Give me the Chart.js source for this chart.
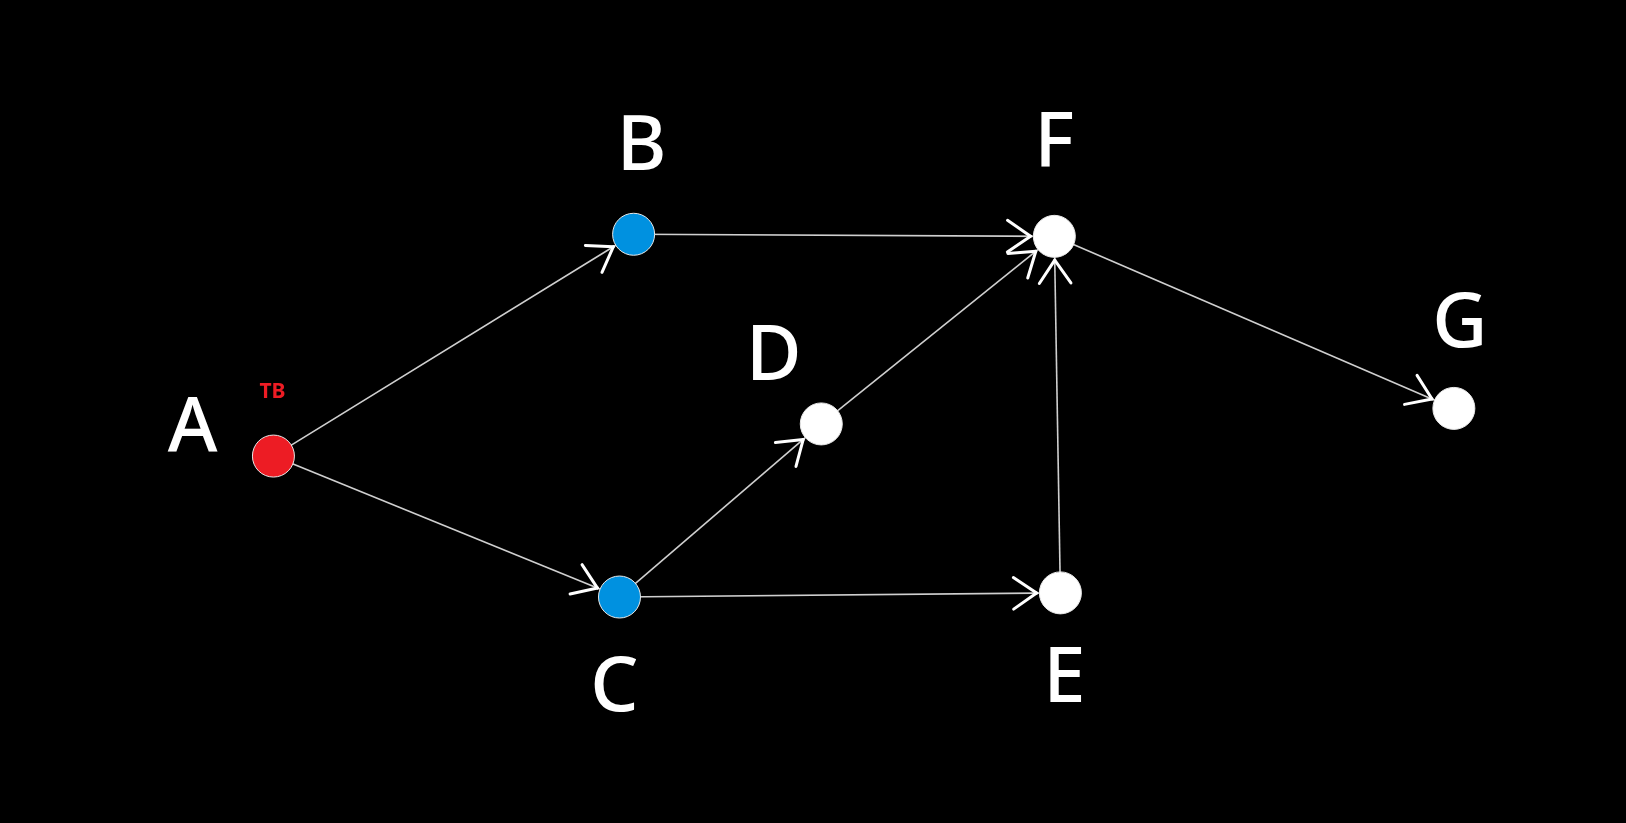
<!DOCTYPE html>
<html><head><meta charset="utf-8">
<script src="https://cdn.jsdelivr.net/npm/chart.js@4"></script>
<style>html,body{margin:0;padding:0;background:#000;overflow:hidden}</style>
</head><body>
<canvas id="c" width="1626" height="823"></canvas>
<script>
const nodeNames = ['A','B','C','D','E','F','G'];
const nodeX = [228,585,571,771,1008,1002,1398];
const nodeY = [440,226,576,409,572,228,394];
const nodeColors = ['#ed1c24','#0091e0','#0091e0','#ffffff','#ffffff','#ffffff','#ffffff'];
const labelX = [148,593,566,724,1012,1002,1404];
const labelY = [415,143,665,346,656,140,314];
const edgeFrom = ['A','A','B','C','C','D','E','F'];
const edgeTo   = ['B','C','F','D','E','F','F','G'];
const noteText = 'TB';
const noteX = 227, noteY = 378;

const idx = n => nodeNames.indexOf(n);
const datasets = [{
  type:'scatter',
  data: nodeNames.map((n,i)=>({x:nodeX[i],y:nodeY[i]})),
  pointRadius:21, pointHoverRadius:21,
  backgroundColor:nodeColors, borderColor:'#e8e8e8', borderWidth:1
}];
edgeFrom.forEach((f,k)=>{
  const a=idx(f), b=idx(edgeTo[k]);
  datasets.push({type:'line',data:[{x:nodeX[a],y:nodeY[a]},{x:nodeX[b],y:nodeY[b]}],
    borderColor:'#cfcfcf',borderWidth:1.6,pointRadius:0,fill:false});
});

const overlay = {
  id:'overlay',
  afterDatasetsDraw(chart){
    const {ctx,scales:{x,y}} = chart;
    const r = 21*chart.width/1568;
    ctx.save();
    ctx.strokeStyle='#fff'; ctx.lineWidth=3; ctx.lineCap='round';
    edgeFrom.forEach((f,k)=>{
      const a=idx(f), b=idx(edgeTo[k]);
      const x1=x.getPixelForValue(nodeX[a]), y1=y.getPixelForValue(nodeY[a]);
      const x2=x.getPixelForValue(nodeX[b]), y2=y.getPixelForValue(nodeY[b]);
      const ang=Math.atan2(y2-y1,x2-x1);
      const tx=x2-Math.cos(ang)*(r+2), ty=y2-Math.sin(ang)*(r+2);
      const L=28;
      [0.6,-0.6].forEach(d=>{
        ctx.beginPath(); ctx.moveTo(tx,ty);
        ctx.lineTo(tx-Math.cos(ang+d)*L, ty-Math.sin(ang+d)*L); ctx.stroke();
      });
    });
    ctx.fillStyle='#fff'; ctx.textAlign='center'; ctx.textBaseline='middle';
    ctx.font='500 76px "Noto Sans", "Open Sans", sans-serif';
    nodeNames.forEach((n,i)=>{
      ctx.fillText(n, x.getPixelForValue(labelX[i]), y.getPixelForValue(labelY[i]));
    });
    ctx.fillStyle='#ed1c24'; ctx.font='bold 21px "Noto Sans", sans-serif';
    ctx.fillText(noteText, x.getPixelForValue(noteX), y.getPixelForValue(noteY));
    ctx.restore();
  }
};
const bg = {id:'bg',beforeDraw(c){c.ctx.save();c.ctx.fillStyle='#000';c.ctx.fillRect(0,0,c.width,c.height);c.ctx.restore();}};

new Chart(document.getElementById('c'),{
  data:{datasets},
  options:{responsive:false,animation:false,
    layout:{padding:0},
    plugins:{legend:{display:false},tooltip:{enabled:false}},
    scales:{x:{type:'linear',min:-21.2,max:1546.8,display:false},
            y:{type:'linear',min:21.2,max:772.8,reverse:true,display:false}}},
  plugins:[bg,overlay]
});
</script>
</body></html>
